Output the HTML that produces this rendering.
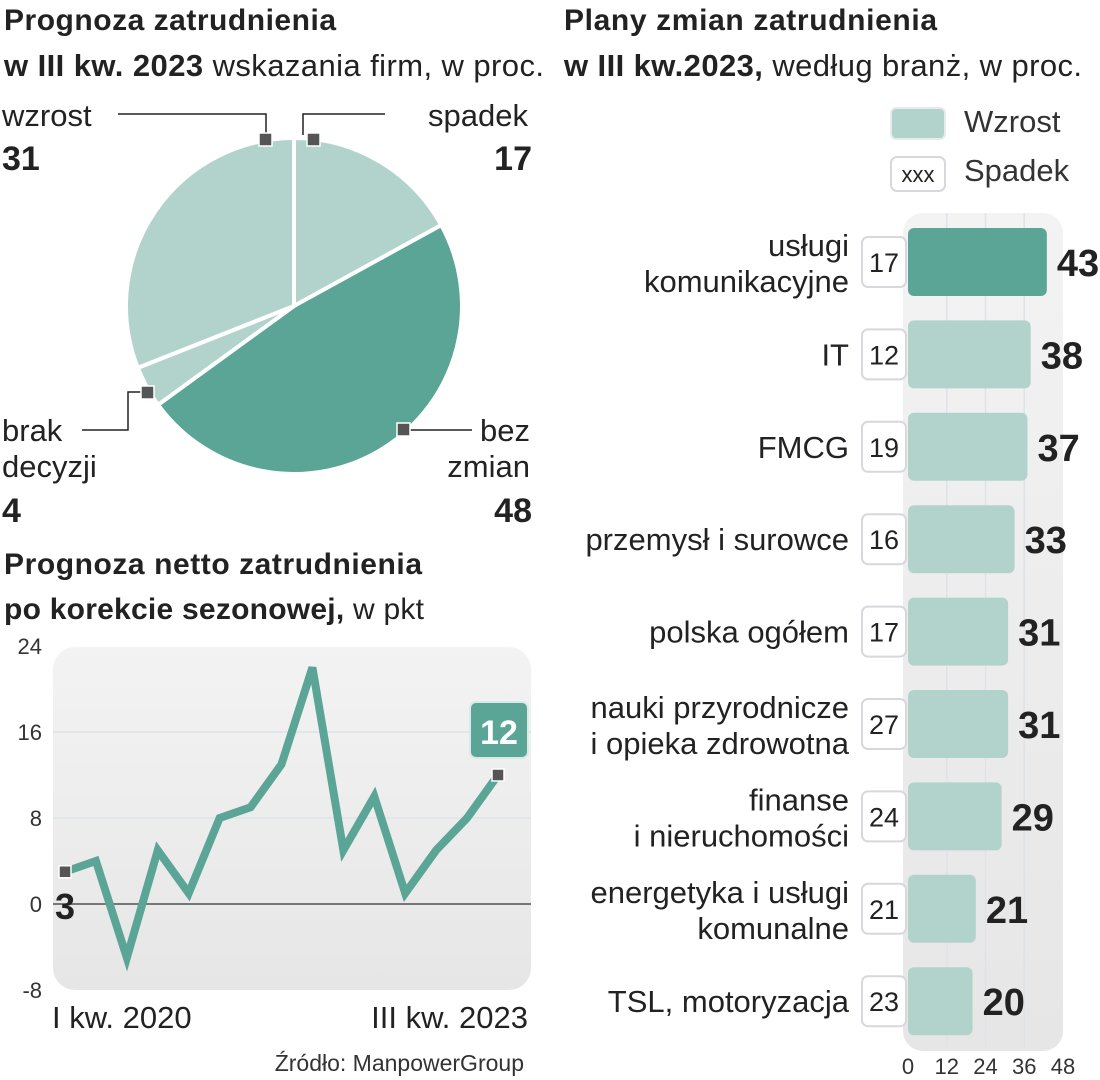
<!DOCTYPE html>
<html><head><meta charset="utf-8"><style>
html,body{margin:0;padding:0;background:#fff;}
svg{display:block;font-family:"Liberation Sans Narrow","Liberation Sans",sans-serif;}
</style></head><body>
<svg id="root" width="1100" height="1080" viewBox="0 0 1100 1080">
<defs>
<linearGradient id="bg" x1="0" y1="0" x2="0" y2="1"><stop offset="0" stop-color="#f3f3f3"/><stop offset="1" stop-color="#e6e6e6"/></linearGradient>
</defs>
<text x="4" y="30" font-size="30" font-weight="bold" fill="#222" textLength="332">Prognoza zatrudnienia</text>
<text x="4" y="76" font-size="31" fill="#222" textLength="540"><tspan font-weight="bold">w III kw. 2023</tspan> wskazania firm, w proc.</text>
<g id="pie"></g>
<g fill="#222" font-size="31">
<text x="2" y="126">wzrost</text>
<text x="2" y="170" font-weight="bold" font-size="34">31</text>
<text x="528" y="126" text-anchor="end">spadek</text>
<text x="532" y="170" text-anchor="end" font-weight="bold" font-size="34">17</text>
<text x="2" y="441">brak</text>
<text x="2" y="477">decyzji</text>
<text x="2" y="522" font-weight="bold" font-size="34">4</text>
<text x="530" y="441" text-anchor="end">bez</text>
<text x="530" y="477" text-anchor="end">zmian</text>
<text x="532" y="522" text-anchor="end" font-weight="bold" font-size="34">48</text>
</g>
<g stroke="#222" stroke-width="1.5" fill="none">
<polyline points="118,114 266,114 266,135"/>
<polyline points="385,114 303,114 303,135"/>
<polyline points="82,430 128,430 128,392 142,392"/>
<polyline points="408,430 472,430"/>
</g>
<g fill="#555" stroke="#fff" stroke-width="1.5">
<rect x="259" y="133" width="13" height="13"/><rect x="307" y="133" width="13" height="13"/>
<rect x="141" y="386" width="13" height="13"/><rect x="397" y="423" width="13" height="13"/>
</g>
<text x="4" y="574" font-size="30" font-weight="bold" fill="#222" textLength="418">Prognoza netto zatrudnienia</text>
<text x="4" y="619" font-size="30" fill="#222" textLength="420"><tspan font-weight="bold">po korekcie sezonowej,</tspan> w pkt</text>
<rect x="53" y="647" width="478" height="343" rx="22" fill="url(#bg)"/>
<g id="line"></g>
<text x="52" y="1028" font-size="31" fill="#222">I kw. 2020</text>
<text x="528" y="1028" font-size="31" fill="#222" text-anchor="end">III kw. 2023</text>
<text x="524" y="1071" font-size="23" fill="#333" text-anchor="end">Źródło: ManpowerGroup</text>
<text x="564" y="30" font-size="30" font-weight="bold" fill="#222" textLength="373">Plany zmian zatrudnienia</text>
<text x="564" y="76" font-size="31" fill="#222" textLength="518"><tspan font-weight="bold">w III kw.2023,</tspan> według branż, w proc.</text>
<rect x="891" y="108" width="54" height="31" rx="5" fill="#b2d3cc" stroke="#e6ecea" stroke-width="2"/>
<text x="964" y="132" font-size="31" fill="#333">Wzrost</text>
<rect x="891" y="157" width="54" height="34" rx="6" fill="#fff" stroke="#d8d8dc" stroke-width="2"/>
<text x="918" y="182" font-size="22" fill="#222" text-anchor="middle">xxx</text>
<text x="964" y="181" font-size="31" fill="#333">Spadek</text>
<g id="bars"></g>
</svg>
<script>
const NS="http://www.w3.org/2000/svg";
function mk(parent,tag,attrs,text){const e=document.createElementNS(NS,tag);for(const k in attrs)e.setAttribute(k,attrs[k]);if(text!==undefined)e.textContent=text;parent.appendChild(e);return e;}

const pieLabels=["spadek","bez zmian","brak decyzji","wzrost"];
const pieValues=[17,48,4,31];
const pieColors=["#b2d3cc","#5ba596","#b2d3cc","#b2d3cc"];
const lineQuarters=["Q1 2020","Q2 2020","Q3 2020","Q4 2020","Q1 2021","Q2 2021","Q3 2021","Q4 2021","Q1 2022","Q2 2022","Q3 2022","Q4 2022","Q1 2023","Q2 2023","Q3 2023"];
const lineValues=[3,4,-5,5,1,8,9,13,22,5,10,1,5,8,12];
const lineTicks=[-8,0,8,16,24];
const barCategories=[["usługi","komunikacyjne"],["IT"],["FMCG"],["przemysł i surowce"],["polska ogółem"],["nauki przyrodnicze","i opieka zdrowotna"],["finanse","i nieruchomości"],["energetyka i usługi","komunalne"],["TSL, motoryzacja"]];
const barIncrease=[43,38,37,33,31,31,29,21,20];
const barDecrease=[17,12,19,16,17,27,24,21,23];
const barTicks=[0,12,24,36,48];

(function(){
 const g=document.getElementById('pie');const cx=294,cy=306,r=168;
 const tot=pieValues.reduce((a,b)=>a+b,0);let a0=0;
 pieValues.forEach((v,i)=>{
  const a1=a0+v/tot*2*Math.PI;
  const x0=cx+r*Math.sin(a0),y0=cy-r*Math.cos(a0),x1=cx+r*Math.sin(a1),y1=cy-r*Math.cos(a1);
  const p=mk(g,'path',{d:`M${cx},${cy}L${x0},${y0}A${r},${r} 0 ${a1-a0>Math.PI?1:0} 1 ${x1},${y1}Z`,fill:pieColors[i],stroke:'#fff','stroke-width':4,'stroke-linejoin':'round'});
  
  
  a0=a1;});
})();

(function(){
 const g=document.getElementById('line');
 const x=i=>65+i*(498-65)/(lineValues.length-1);
 const y=v=>904-v*10.75;
 lineTicks.forEach(t=>{
  if(t>-8&&t<24){const l=mk(g,'line',{x1:53,x2:531,y1:y(t),y2:y(t),stroke:t===0?'#777':'#dde3e6','stroke-width':t===0?2:1.5});
  
  }
  const tx=mk(g,'text',{x:42,y:y(t)+8,'font-size':22,fill:'#333','text-anchor':'end'},String(t));
  
  
 });
 const pts=lineValues.map((v,i)=>x(i)+','+y(v)).join(' ');
 const pl=mk(g,'polyline',{points:pts,fill:'none',stroke:'#5ba596','stroke-width':8,'stroke-linejoin':'miter','stroke-linecap':'round'});
 
 
 const n=lineValues.length-1;
 [0,n].forEach(i=>{const m=mk(g,'rect',{x:x(i)-6,y:y(lineValues[i])-6,width:12,height:12,fill:'#555',stroke:'#fff','stroke-width':1.5});
  
  });
 const s=mk(g,'text',{x:x(0)-10,y:y(0)+15,'font-size':36,'font-weight':'bold',fill:'#222'},String(lineValues[0]));
 
 
 const b=mk(g,'rect',{x:x(n)-28,y:y(lineValues[n])-73,width:58,height:56,rx:6,fill:'#5ba596',stroke:'#d8ebe6','stroke-width':2});
 
 
 const e=mk(g,'text',{x:x(n)+1,y:y(lineValues[n])-31,'font-size':34,'font-weight':'bold',fill:'#fff','text-anchor':'middle'},String(lineValues[n]));
 
 
})();

(function(){
 const g=document.getElementById('bars');
 const x0=908,k=(1063-908)/48;const xs=v=>x0+v*k;
 const rowY=i=>262+i*92.4;
 const bg=mk(g,'rect',{x:903,y:213,width:160,height:838,rx:20,fill:'url(#bg)'});
 
 
 barTicks.forEach(t=>{
  if(t>0&&t<48){const l=mk(g,'line',{x1:xs(t),x2:xs(t),y1:213,y2:1048,stroke:'#dde3e8','stroke-width':1.5});
   
   }
  const tx=mk(g,'text',{x:xs(t),y:1074,'font-size':22,fill:'#333','text-anchor':'middle'},String(t));
  
  
 });
 barIncrease.forEach((v,i)=>{
  const cy=rowY(i);
  const r=mk(g,'rect',{x:xs(0),y:cy-34,width:xs(v)-xs(0),height:68,rx:6,fill:i===0?'#5ba596':'#b2d3cc'});
  
  
  const vt=mk(g,'text',{x:xs(v)+10,y:cy+14,'font-size':38,'font-weight':'bold',fill:'#222'},String(v));
  
  
  const box=mk(g,'rect',{x:862,y:cy-25,width:44,height:50,rx:6,fill:'#fff',stroke:'#d8d8dc','stroke-width':2});
  
  
  const dt=mk(g,'text',{x:884,y:cy+10,'font-size':27,fill:'#222','text-anchor':'middle'},String(barDecrease[i]));
  
  
  const lines=barCategories[i];
  lines.forEach((s,j)=>{
   const yy=lines.length===1?cy+11:cy-6+j*36;
   const lt=mk(g,'text',{x:849,y:yy,'font-size':31,fill:'#222','text-anchor':'end'},s);
   
   
  });
 });
})();
</script>
</body></html>
